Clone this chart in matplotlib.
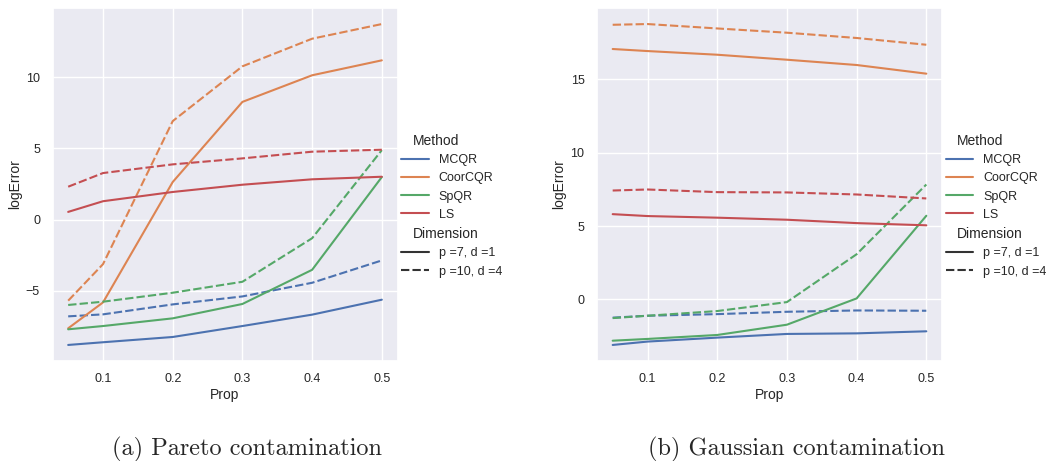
import matplotlib
matplotlib.use("Agg")
import matplotlib.pyplot as plt
import seaborn as sns
import pandas as pd

# -- data --
prop = [0.05, 0.1, 0.2, 0.3, 0.4, 0.5]
methods = ["MCQR", "CoorCQR", "SpQR", "LS"]
dims = ["p =7, d =1", "p =10, d =4"]

# Pareto contamination
pareto_mcqr_1 = [-8.81, -8.62, -8.25, -7.48, -6.68, -5.63]
pareto_mcqr_4 = [-6.80, -6.66, -5.96, -5.40, -4.44, -2.87]
pareto_coor_1 = [-7.64, -5.82, 2.64, 8.27, 10.14, 11.19]
pareto_coor_4 = [-5.70, -3.13, 6.92, 10.77, 12.71, 13.74]
pareto_spqr_1 = [-7.71, -7.48, -6.94, -5.93, -3.53, 2.99]
pareto_spqr_4 = [-6.00, -5.77, -5.14, -4.37, -1.31, 4.88]
pareto_ls_1 = [0.54, 1.29, 1.94, 2.45, 2.83, 3.01]
pareto_ls_4 = [2.31, 3.27, 3.88, 4.30, 4.77, 4.91]

# Gaussian contamination
gauss_mcqr_1 = [-3.10, -2.87, -2.60, -2.35, -2.31, -2.17]
gauss_mcqr_4 = [-1.24, -1.11, -1.00, -0.84, -0.75, -0.77]
gauss_coor_1 = [17.06, 16.92, 16.67, 16.33, 15.97, 15.38]
gauss_coor_4 = [18.71, 18.76, 18.46, 18.17, 17.81, 17.35]
gauss_spqr_1 = [-2.81, -2.69, -2.42, -1.72, 0.07, 5.70]
gauss_spqr_4 = [-1.27, -1.11, -0.79, -0.18, 3.08, 7.83]
gauss_ls_1 = [5.81, 5.68, 5.57, 5.43, 5.20, 5.05]
gauss_ls_4 = [7.42, 7.49, 7.31, 7.29, 7.15, 6.88]


def make_frame(series):
    """ series is a list of (method, dimension, values) """
    rows = []
    for method, dim, vals in series:
        for p, v in zip(prop, vals):
            rows.append({"Prop": p, "logError": v, "Method": method, "Dimension": dim})
    return pd.DataFrame(rows)


pareto = make_frame([
    ("MCQR", dims[0], pareto_mcqr_1), ("MCQR", dims[1], pareto_mcqr_4),
    ("CoorCQR", dims[0], pareto_coor_1), ("CoorCQR", dims[1], pareto_coor_4),
    ("SpQR", dims[0], pareto_spqr_1), ("SpQR", dims[1], pareto_spqr_4),
    ("LS", dims[0], pareto_ls_1), ("LS", dims[1], pareto_ls_4),
])
gauss = make_frame([
    ("MCQR", dims[0], gauss_mcqr_1), ("MCQR", dims[1], gauss_mcqr_4),
    ("CoorCQR", dims[0], gauss_coor_1), ("CoorCQR", dims[1], gauss_coor_4),
    ("SpQR", dims[0], gauss_spqr_1), ("SpQR", dims[1], gauss_spqr_4),
    ("LS", dims[0], gauss_ls_1), ("LS", dims[1], gauss_ls_4),
])

sns.set_theme(style="darkgrid", palette="deep")
plt.rcParams["font.family"] = ["Liberation Sans", "DejaVu Sans"]

W, H = 1053, 461
fig = plt.figure(figsize=(W / 100, H / 100), dpi=100)
fig.patch.set_facecolor("white")

panels = [
    (pareto, [52.5, 8, 345, 353], "(a) Pareto contamination", 247),
    (gauss, [597, 8, 345, 353], "(b) Gaussian contamination", 796),
]

for df, (x0, y0, w, h), caption, cx in panels:
    ax = fig.add_axes([x0 / W, 1 - (y0 + h) / H, w / W, h / H])
    sns.lineplot(data=df, x="Prop", y="logError", hue="Method", style="Dimension",
                 hue_order=methods, style_order=dims, ax=ax, linewidth=1.5)
    ax.set_xticks([0.1, 0.2, 0.3, 0.4, 0.5])
    ax.tick_params(labelsize=9, pad=3)
    ax.set_xlabel("Prop", fontsize=10, labelpad=2)
    ax.set_ylabel("logError", fontsize=10, labelpad=3)
    sns.move_legend(ax, "center left", bbox_to_anchor=(0.996, 0.44), frameon=False,
                    fontsize=9, handlelength=2.2, borderaxespad=0, labelspacing=0.5,
                    handletextpad=0.8)
    leg = ax.get_legend()
    # subtitles ("Method", "Dimension") sit left of the other labels
    for column in leg._legend_handle_box.get_children():
        for row in column.get_children():
            handle_area, text_area = row.get_children()
            if text_area.get_text() in ("Method", "Dimension"):
                handle_area.width = 1
                text_area._text.set_fontsize(10)
    fig.text(cx / W, 1 - 449 / H, caption, ha="center", va="center",
             fontsize=17.5, family="cmr10")

fig.savefig("out.png", dpi=100)
